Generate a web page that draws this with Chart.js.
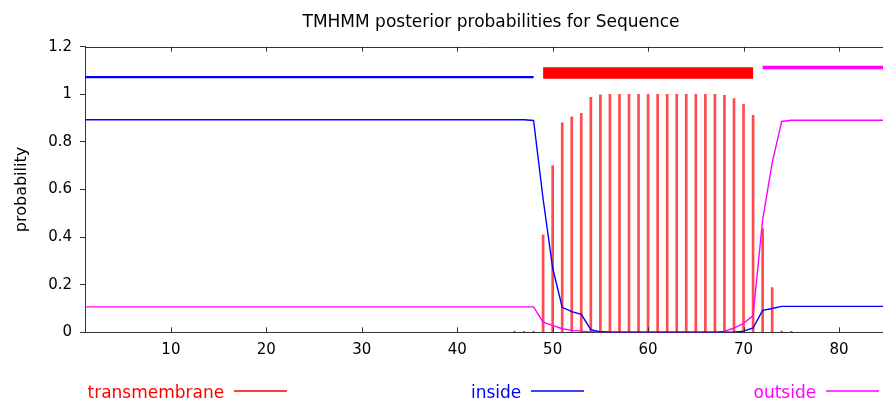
<!DOCTYPE html>
<html>
<head>
<meta charset="utf-8">
<title>TMHMM posterior probabilities</title>
<script src="https://cdn.jsdelivr.net/npm/chart.js@4.4.1/dist/chart.umd.min.js"></script>
<style>
  html, body { margin: 0; padding: 0; background: #fff; overflow: hidden; }
  #wrap { width: 883px; height: 400px; overflow: hidden; }
  canvas { display: block; }
</style>
</head>
<body>
<div id="wrap"><canvas id="tmhmmChart" width="890" height="400"></canvas></div>
<script>
const titleText = "TMHMM posterior probabilities for Sequence";
const yAxisLabel = "probability";
const legendLabels = ["transmembrane", "inside", "outside"];

// residue positions 1..85
const positions = Array.from({ length: 85 }, (_, i) => i + 1);

const transmembrane = [
  0, 0, 0, 0, 0, 0, 0, 0, 0, 0,
  0, 0, 0, 0, 0, 0, 0, 0, 0, 0,
  0, 0, 0, 0, 0, 0, 0, 0, 0, 0,
  0, 0, 0, 0, 0, 0, 0, 0, 0, 0,
  0, 0, 0, 0, 0, 0.004, 0.004, 0.004, 0.41, 0.70,
  0.88, 0.905, 0.92, 0.987, 0.998, 1, 1, 1, 1, 1,
  1, 1, 1, 1, 1, 1, 1, 0.996, 0.982, 0.958,
  0.912, 0.436, 0.188, 0.005, 0.004, 0, 0, 0, 0, 0,
  0, 0, 0, 0, 0
];

const inside = [
  0.893, 0.893, 0.893, 0.893, 0.893, 0.893, 0.893, 0.893, 0.893, 0.893,
  0.893, 0.893, 0.893, 0.893, 0.893, 0.893, 0.893, 0.893, 0.893, 0.893,
  0.893, 0.893, 0.893, 0.893, 0.893, 0.893, 0.893, 0.893, 0.893, 0.893,
  0.893, 0.893, 0.893, 0.893, 0.893, 0.893, 0.893, 0.893, 0.893, 0.893,
  0.893, 0.893, 0.893, 0.893, 0.893, 0.893, 0.893, 0.89, 0.56, 0.27,
  0.105, 0.087, 0.075, 0.011, 0.002, 0, 0, 0, 0, 0,
  0, 0, 0, 0, 0, 0, 0, 0, 0, 0.005,
  0.018, 0.092, 0.1, 0.109, 0.109, 0.109, 0.109, 0.109, 0.109, 0.109,
  0.109, 0.109, 0.109, 0.109, 0.109
];

const outside = [
  0.107, 0.107, 0.107, 0.107, 0.107, 0.107, 0.107, 0.107, 0.107, 0.107,
  0.107, 0.107, 0.107, 0.107, 0.107, 0.107, 0.107, 0.107, 0.107, 0.107,
  0.107, 0.107, 0.107, 0.107, 0.107, 0.107, 0.107, 0.107, 0.107, 0.107,
  0.107, 0.107, 0.107, 0.107, 0.107, 0.107, 0.107, 0.107, 0.107, 0.107,
  0.107, 0.107, 0.107, 0.107, 0.107, 0.107, 0.107, 0.107, 0.043, 0.029,
  0.015, 0.008, 0.005, 0.002, 0.001, 0, 0, 0, 0, 0,
  0, 0, 0, 0, 0, 0, 0, 0.004, 0.018, 0.037,
  0.07, 0.472, 0.712, 0.886, 0.891, 0.891, 0.891, 0.891, 0.891, 0.891,
  0.891, 0.891, 0.891, 0.891, 0.891
];

// predicted topology bars along the top: inside / TMhelix / outside
const topoStart = [1, 49, 72];
const topoEnd = [48, 71, 85];
const topoLevel = [1.072, 1.09, 1.113];

const xTicks = [10, 20, 30, 40, 50, 60, 70, 80];
const yTicks = [0, 0.2, 0.4, 0.6, 0.8, 1, 1.2];

const RED = "#ff0000";
const BLUE = "#0000ff";
const MAGENTA = "#ff00ff";
const AXIS = "#333333";

function toPoints(values) {
  return values.map((v, i) => ({ x: positions[i], y: v }));
}

function topoSegment(i) {
  return [
    { x: topoStart[i], y: topoLevel[i] },
    { x: topoEnd[i], y: topoLevel[i] },
  ];
}

// title, legend, top frame line and inward x ticks
const decorPlugin = {
  id: "decor",
  afterDraw(chart) {
    const { ctx, chartArea: area, scales } = chart;
    ctx.save();

    ctx.strokeStyle = AXIS;
    ctx.lineWidth = 1;
    ctx.beginPath();
    ctx.moveTo(area.left, Math.round(area.top) + 0.5);
    ctx.lineTo(area.right, Math.round(area.top) + 0.5);
    ctx.stroke();

    xTicks.forEach((v) => {
      const px = Math.round(scales.x.getPixelForValue(v)) + 0.5;
      ctx.beginPath();
      ctx.moveTo(px, area.bottom);
      ctx.lineTo(px, area.bottom - 5);
      ctx.moveTo(px, area.top);
      ctx.lineTo(px, area.top + 5);
      ctx.stroke();
    });

    ctx.fillStyle = "#000";
    ctx.font = '17px "DejaVu Sans"';
    ctx.textAlign = "center";
    ctx.textBaseline = "alphabetic";
    ctx.fillText(titleText, 491, 27);

    const legendX = [87.5, 471, 753.5];
    const legendColors = [RED, BLUE, MAGENTA];
    ctx.textAlign = "left";
    ctx.lineWidth = 1.4;
    legendLabels.forEach((label, i) => {
      ctx.fillStyle = legendColors[i];
      ctx.fillText(label, legendX[i], 398);
      const start = Math.round(legendX[i] + ctx.measureText(label).width + 10);
      ctx.strokeStyle = legendColors[i];
      ctx.beginPath();
      ctx.moveTo(start, 391);
      ctx.lineTo(start + 53, 391);
      ctx.stroke();
    });

    ctx.restore();
  },
};

const ctx = document.getElementById("tmhmmChart").getContext("2d");
new Chart(ctx, {
  type: "line",
  data: {
    datasets: [
      {
        label: "inside",
        data: toPoints(inside),
        borderColor: BLUE,
        borderWidth: 1.4,
        pointRadius: 0,
        tension: 0,
        order: 1,
      },
      {
        label: "outside",
        data: toPoints(outside),
        borderColor: MAGENTA,
        borderWidth: 1.4,
        pointRadius: 0,
        tension: 0,
        order: 2,
      },
      {
        type: "bar",
        label: "transmembrane",
        data: toPoints(transmembrane),
        backgroundColor: "rgba(255, 30, 30, 0.8)",
        barThickness: 2,
        grouped: false,
        order: 3,
      },
      {
        label: "inside region",
        data: topoSegment(0),
        borderColor: BLUE,
        borderWidth: 2.2,
        borderCapStyle: "butt",
        pointRadius: 0,
        order: 0,
      },
      {
        label: "TMhelix",
        data: topoSegment(1),
        borderColor: RED,
        borderWidth: 11.5,
        borderCapStyle: "butt",
        pointRadius: 0,
        order: 0,
      },
      {
        label: "outside region",
        data: topoSegment(2),
        borderColor: MAGENTA,
        borderWidth: 3.5,
        borderCapStyle: "butt",
        pointRadius: 0,
        order: 0,
      },
    ],
  },
  options: {
    responsive: false,
    animation: false,
    layout: {
      padding: { left: 0, top: 46.7, right: 3.3, bottom: 37.7 },
    },
    plugins: {
      legend: { display: false },
      title: { display: false },
      tooltip: { enabled: false },
    },
    scales: {
      x: {
        type: "linear",
        min: 1,
        max: 85,
        offset: false,
        afterBuildTicks: (scale) => {
          scale.ticks = xTicks.map((v) => ({ value: v }));
        },
        afterFit: (scale) => {
          scale.height = 30;
        },
        grid: { display: true, drawOnChartArea: false, drawTicks: false },
        border: { display: true, color: AXIS, width: 1 },
        ticks: {
          padding: 9,
          color: "#000",
          font: { family: "DejaVu Sans", size: 15 },
          maxRotation: 0,
        },
      },
      y: {
        min: 0,
        max: 1.2,
        afterBuildTicks: (scale) => {
          scale.ticks = yTicks.map((v) => ({ value: v }));
        },
        afterFit: (scale) => {
          scale.width = 85;
        },
        grid: {
          display: true,
          drawOnChartArea: false,
          drawTicks: true,
          tickLength: 5,
          color: AXIS,
        },
        border: { display: true, color: AXIS, width: 1 },
        ticks: {
          padding: 8,
          color: "#000",
          font: { family: "DejaVu Sans", size: 15 },
          callback: (v) => String(+v.toFixed(1)),
        },
        title: {
          display: true,
          text: yAxisLabel,
          color: "#000",
          font: { family: "DejaVu Sans", size: 16 },
          padding: { top: 12, bottom: 0 },
        },
      },
    },
  },
  plugins: [decorPlugin],
});
</script>
</body>
</html>
